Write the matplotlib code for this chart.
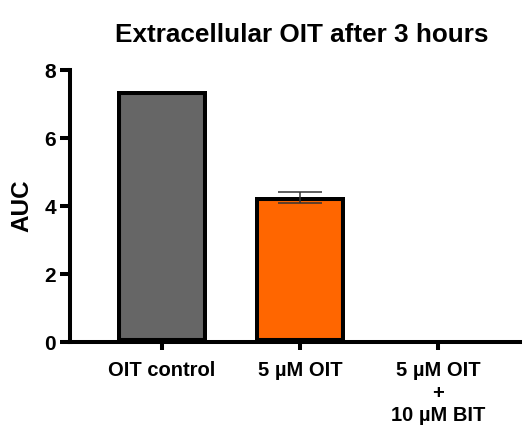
import matplotlib
matplotlib.use("Agg")
import matplotlib.pyplot as plt

categories = ["OIT control", "5 µM OIT", "5 µM OIT\n+\n10 µM BIT"]
values = [7.39, 4.26, 0.0]
errors = [0.0, 0.16, 0.0]
colors = ["#666666", "#FF6600", "#FFFFFF"]

plt.rcParams['font.family'] = ['Liberation Sans', 'DejaVu Sans']
plt.rcParams['font.weight'] = 'bold'

fig = plt.figure(figsize=(5.23, 4.25), dpi=100)
ax = fig.add_axes([70/523, 1-342/425, 450/523, 272/425])

x = list(range(len(categories)))
for i in range(2):
    bars = ax.bar(x[i], values[i], width=0.65, color=colors[i], edgecolor="black", linewidth=5.8, zorder=2)
    for p in bars:
        p.set_clip_path(p)  # stroke drawn inside the bar outline
ax.errorbar(x[1], values[1], yerr=errors[1], fmt='none', ecolor='#333333', elinewidth=1.1, capsize=16, capthick=1.1, zorder=3)

ax.set_xlim(-0.665, 2.59)
ax.set_ylim(0, 8)
ax.set_yticks([0, 2, 4, 6, 8])
ax.set_xticks(x)
ax.set_xticklabels(categories, fontsize=14.5, fontweight='bold', linespacing=1.22)
ax.tick_params(axis='y', labelsize=15, width=2.9, length=7, direction='out', pad=3)
ax.tick_params(axis='x', width=2.9, length=6, direction='out', pad=8)
for lab in ax.get_yticklabels():
    lab.set_fontweight('bold')
for s in ['top', 'right']:
    ax.spines[s].set_visible(False)
for s in ['left', 'bottom']:
    ax.spines[s].set_linewidth(2.9)
ax.set_ylabel("AUC", fontsize=17.5, fontweight='bold', labelpad=8)
t = ax.set_title("Extracellular OIT after 3 hours", fontsize=18.8, fontweight='bold', pad=20)
t.set_x(0.514)

fig.savefig("out.png", dpi=100)
